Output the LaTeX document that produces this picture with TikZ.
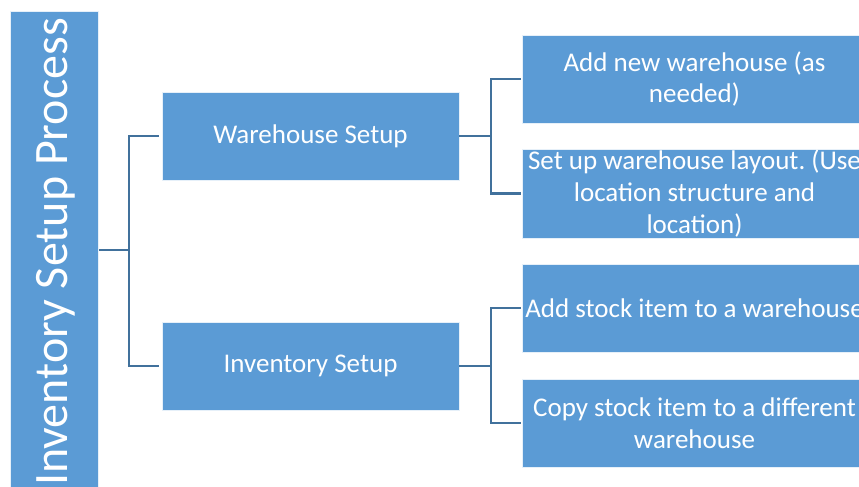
\documentclass[tikz,border=0pt]{standalone}
\usepackage{fontspec}
\setmainfont{Carlito}
\frenchspacing
\definecolor{boxblue}{HTML}{5B9BD5}
\definecolor{linkblue}{HTML}{41719C}
\tikzset{
  x=1pt, y=-1pt,
  blk/.style={draw=white!85!boxblue, line width=0.8pt, fill=boxblue, text=white,
    font=\fontsize{27}{31.7}\selectfont, align=center, inner sep=0pt},
  conn/.style={draw=linkblue, line width=2.8pt}
}
\begin{document}
\begin{tikzpicture}
\useasboundingbox (0,0) rectangle (859,487);
\node[blk, minimum width=88pt, minimum height=490pt] (bar) at (54,256) {};
\node[text=white, rotate=90, font=\fontsize{48}{56}\selectfont, inner sep=0pt] (title) at (56,252) {Inventory Setup Process};
\node[blk, minimum width=297pt, minimum height=88pt] (ws) at (310.5,136) {Warehouse Setup};
\node[blk, minimum width=297pt, minimum height=88pt] (is) at (310.5,366) {Inventory Setup};
\node[blk, minimum width=345pt, minimum height=88pt] (r1) at (694.5,79) {Add new warehouse (as\\needed)};
\node[blk, minimum width=345pt, minimum height=89pt] (r2) at (694.5,193.5) {Set up warehouse layout. (Use\\location structure and\\location)};
\node[blk, minimum width=345pt, minimum height=88pt] (r3) at (694.5,308) {Add stock item to a warehouse};
\node[blk, minimum width=345pt, minimum height=88pt] (r4) at (694.5,423) {Copy stock item to a different\\warehouse};
\coordinate (j0) at (129,250);
\coordinate (j1) at (491,136);
\coordinate (j2) at (491,366);
\draw[conn] (99,250) -- (j0) |- ([xshift=-3pt]ws.west);
\draw[conn] (j0) |- ([xshift=-3pt]is.west);
\draw[conn] (ws.east) -- (j1) |- ([xshift=-1pt]r1.west);
\draw[conn] (j1) |- ([xshift=-1pt]r2.west);
\draw[conn] (is.east) -- (j2) |- ([xshift=-1pt]r3.west);
\draw[conn] (j2) |- ([xshift=-1pt]r4.west);
\end{tikzpicture}
\end{document}
